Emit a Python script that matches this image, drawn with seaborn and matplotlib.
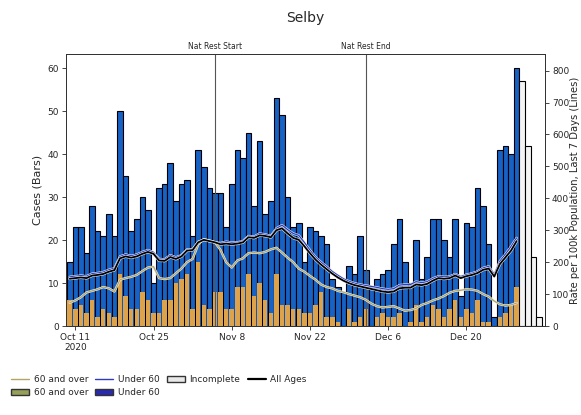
import pandas as pd
import matplotlib.pyplot as plt
import matplotlib.patheffects as pe
from matplotlib.lines import Line2D
from matplotlib.patches import Patch
import seaborn as sns

# Selby daily cases, 10 Oct 2020 onwards
start_date = '2020-10-10'

cases_total = [15, 23, 23, 17, 28, 22, 21, 26, 21, 50,
               35, 22, 25, 30, 27, 10, 32, 33, 38, 29,
               33, 34, 21, 41, 37, 32, 31, 31, 23, 33,
               41, 39, 45, 28, 43, 26, 29, 53, 49, 30,
               23, 24, 15, 23, 22, 21, 19, 11, 9, 8,
               14, 12, 21, 13, 9, 11, 12, 13, 19, 25,
               15, 10, 20, 11, 16, 25, 25, 20, 16, 25,
               7, 24, 23, 32, 28, 19, 2, 41, 42, 40,
               60]

cases_60plus = [6, 4, 5, 3, 6, 2, 4, 3, 2, 12,
                7, 4, 4, 8, 6, 3, 3, 6, 6, 10,
                11, 12, 4, 15, 5, 4, 8, 8, 4, 4,
                9, 9, 12, 7, 10, 6, 3, 12, 5, 5,
                4, 4, 3, 3, 5, 8, 2, 2, 1, 0,
                4, 1, 2, 4, 0, 2, 3, 2, 2, 3,
                0, 1, 5, 1, 2, 5, 4, 2, 4, 6,
                2, 4, 3, 6, 1, 1, 0, 2, 3, 5,
                9]

cases_incomplete = [57, 42, 16, 2]

# 7 day rate per 100k
rate_all = [148, 150, 152, 150, 158, 160, 163, 170, 175, 212,
            218, 214, 218, 226, 232, 226, 205, 204, 216, 210,
            218, 236, 238, 262, 270, 266, 262, 256, 258, 256,
            258, 262, 278, 276, 284, 282, 278, 300, 306, 290,
            276, 270, 250, 228, 208, 192, 178, 164, 152, 142,
            134, 128, 124, 120, 116, 112, 108, 106, 108, 118,
            120, 120, 130, 128, 132, 142, 150, 148, 150, 158,
            150, 156, 160, 166, 176, 180, 155, 194, 215, 236,
            266]

rate_under60 = [154, 156, 158, 156, 164, 166, 169, 176, 181, 218,
                224, 220, 224, 232, 238, 231, 210, 209, 222, 215,
                222, 240, 240, 264, 270, 266, 262, 260, 264, 262,
                262, 266, 282, 280, 290, 287, 282, 306, 316, 302,
                290, 284, 262, 238, 216, 200, 186, 171, 159, 148,
                140, 134, 130, 127, 124, 121, 117, 115, 117, 128,
                130, 130, 139, 136, 139, 149, 156, 154, 155, 163,
                155, 161, 165, 171, 182, 187, 162, 203, 225, 249,
                276]

rate_60plus = [73, 80, 90, 105, 110, 115, 122, 118, 108, 145,
               150, 154, 160, 172, 183, 186, 150, 147, 150, 165,
               180, 200, 210, 255, 272, 268, 262, 238, 200, 183,
               205, 212, 228, 230, 228, 232, 240, 245, 230, 214,
               200, 180, 170, 157, 145, 130, 122, 118, 110, 106,
               100, 95, 90, 82, 70, 62, 58, 60, 62, 55,
               48, 50, 55, 66, 72, 80, 86, 94, 104, 110,
               112, 115, 114, 110, 100, 92, 78, 68, 64, 66,
               72]

events = {'Nat Rest Start': '2020-11-05', 'Nat Rest End': '2020-12-02'}
tick_dates = ['2020-10-11', '2020-10-25', '2020-11-08', '2020-11-22', '2020-12-06', '2020-12-20']
tick_labels = ['Oct 11\n2020', 'Oct 25', 'Nov 8', 'Nov 22', 'Dec 6', 'Dec 20']

dates = pd.date_range(start_date, periods=len(cases_total))
dates_inc = pd.date_range(dates[-1] + pd.Timedelta(days=1), periods=len(cases_incomplete))

col_blue = '#1862c6'
col_orange = '#dda24c'
col_olive = '#b3a564'
col_line_blue = '#2a3cc0'

sns.set_style('ticks')
plt.rcParams['font.family'] = ['DejaVu Sans']

fig = plt.figure(figsize=(5.81, 4.15), dpi=100)
ax = fig.add_axes([66 / 581, 1 - 326 / 415, 479 / 581, 272 / 415])
ax2 = ax.twinx()

# bars: full height in blue, over 60 part in orange on top
ax.bar(dates, cases_total, width=1.0, color=col_blue, edgecolor='black', linewidth=0.8, zorder=2)
ax.bar(dates, cases_60plus, width=0.8, color=col_orange, edgecolor='none', linewidth=0, zorder=3)
ax.bar(dates_inc, cases_incomplete, width=1.0, color='#f4f4f4', edgecolor='black', linewidth=0.8, zorder=2)

for name, d in events.items():
    ax.axvline(pd.Timestamp(d), color='#555555', linewidth=0.8, zorder=4)
    ax.text(pd.Timestamp(d), 1.012, name, transform=ax.get_xaxis_transform(),
            ha='center', va='bottom', fontsize=5.5)

# lines on right axis
sns.lineplot(x=dates, y=rate_60plus, ax=ax2, color=col_olive, linewidth=0.9)
sns.lineplot(x=dates, y=rate_under60, ax=ax2, color=col_line_blue, linewidth=0.9)
sns.lineplot(x=dates, y=rate_all, ax=ax2, color='black', linewidth=1.3)
for ln in ax2.lines:
    ln.set_path_effects([pe.Stroke(linewidth=ln.get_linewidth() + 0.8, foreground='#eeeeee'), pe.Normal()])

ax.set_xlim(pd.Timestamp(start_date) - pd.Timedelta(hours=16),
            pd.Timestamp(start_date) + pd.Timedelta(days=85, hours=2))
ax.set_ylim(0, 63.3)
ax2.set_ylim(0, 852)
ax.set_yticks(range(0, 61, 10))
ax2.set_yticks(range(0, 801, 100))
ax.set_xticks([pd.Timestamp(t) for t in tick_dates])
ax.set_xticklabels(tick_labels)

ax.tick_params(labelsize=6.5, length=3, width=0.6, pad=2)
ax2.tick_params(labelsize=6.5, length=3, width=0.6, pad=2)
ax.set_ylabel('Cases (Bars)', fontsize=8)
ax2.set_ylabel('Rate per 100k Population, Last 7 Days (Lines)', fontsize=7.2,
               rotation=90, va='center', ha='center')
ax2.yaxis.set_label_coords(1.062, 0.5)
ax.set_xlabel('')
for a in (ax, ax2):
    for s in a.spines.values():
        s.set_color('#333333')
        s.set_linewidth(0.7)

fig.text(0.526, 0.957, 'Selby', ha='center', va='center', fontsize=10)

handles = [Line2D([], [], color=col_olive, linewidth=1.0),
           Patch(facecolor='#97a058', edgecolor='#333333'),
           Line2D([], [], color=col_line_blue, linewidth=1.0),
           Patch(facecolor='#2a2ab0', edgecolor='#333333'),
           Patch(facecolor='#e8e8e8', edgecolor='#333333'),
           Line2D([], [], color='black', linewidth=1.6)]
labels = ['60 and over', '60 and over', 'Under 60', 'Under 60', 'Incomplete', 'All Ages']
fig.legend(handles, labels, loc='upper left', bbox_to_anchor=(0.005, 0.115), ncol=4,
           frameon=False, fontsize=6.5, handlelength=2.0, columnspacing=0.8,
           handletextpad=0.5, labelspacing=0.4)

fig.savefig('out.png', dpi=100)
